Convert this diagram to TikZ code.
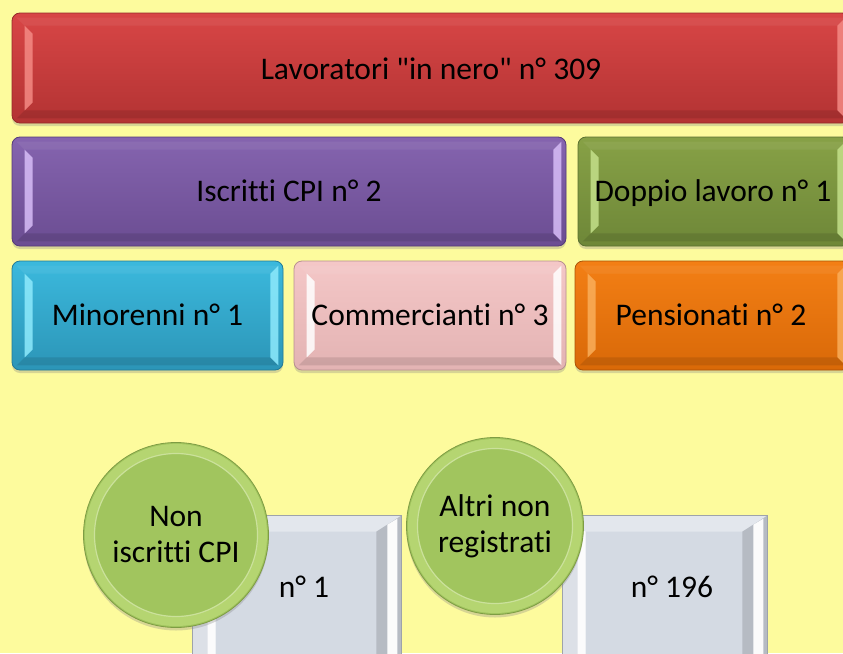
\documentclass[tikz,border=0pt]{standalone}
\usepackage{fontspec}
\newfontfamily\calfont[Ligatures=NoCommon]{Carlito}
\usetikzlibrary{calc,shadows}
\definecolor{bg}{HTML}{FDFB9D}
\definecolor{redT}{HTML}{D84646}\definecolor{redB}{HTML}{B33333}\definecolor{redE}{HTML}{952A2A}\definecolor{redH}{HTML}{F48A84}
\definecolor{purT}{HTML}{8564AF}\definecolor{purB}{HTML}{6B4D92}\definecolor{purE}{HTML}{553A7A}\definecolor{purH}{HTML}{D7BDF7}
\definecolor{oliT}{HTML}{87A146}\definecolor{oliB}{HTML}{6E8738}\definecolor{oliE}{HTML}{5A7030}\definecolor{oliH}{HTML}{C4E08A}
\definecolor{bluT}{HTML}{3BB9DD}\definecolor{bluB}{HTML}{2C95B7}\definecolor{bluE}{HTML}{237A96}\definecolor{bluH}{HTML}{8EEAFC}
\definecolor{pinT}{HTML}{F4C7C7}\definecolor{pinB}{HTML}{E3B3B3}\definecolor{pinE}{HTML}{B89090}\definecolor{pinH}{HTML}{FFFFFF}
\definecolor{oraT}{HTML}{F37F15}\definecolor{oraB}{HTML}{D96908}\definecolor{oraE}{HTML}{AA5206}\definecolor{oraH}{HTML}{FAAE5A}
\definecolor{cirF}{HTML}{A1C55E}\definecolor{cirR}{HTML}{B5D571}\definecolor{cirE}{HTML}{7E9C44}
\definecolor{gryF}{HTML}{D4DAE3}\definecolor{gryT}{HTML}{E3E7ED}\definecolor{gryL}{HTML}{DCE0E7}\definecolor{gryR}{HTML}{B6BBC3}\definecolor{gryE}{HTML}{9EA3AB}
\tikzset{
  bevbox/.style={rounded corners=8pt, line width=0.8pt, inner sep=0pt,
    drop shadow={shadow xshift=0pt,shadow yshift=-3pt,opacity=0.3}},
  graybox/.style={fill=gryF, draw=gryE, line width=0.8pt, inner sep=0pt,
    drop shadow={shadow xshift=0pt,shadow yshift=-3pt,opacity=0.3}},
  circbox/.style={circle, fill=cirF, draw=cirE, line width=0.8pt, inner sep=0pt,
    drop shadow={shadow xshift=0pt,shadow yshift=-3pt,opacity=0.3}},
  boxtext/.style={font=\calfont\fontsize{31.5}{36}\selectfont, text=black, inner sep=0pt, text height=20pt, text depth=0pt},
  circtext/.style={font=\calfont\fontsize{31.5}{36}\selectfont, text=black, inner sep=0pt, align=center},
}
\newcommand\bevelhl[2]{%
  \fill[#2,opacity=0.85] ($(#1.north west)+(13,13)$) -- ($(#1.north west)+(21,21)$) -- ($(#1.south west)+(21,-21)$) -- ($(#1.south west)+(13,-13)$) -- cycle;
  \fill[#2,opacity=0.85] ($(#1.north east)+(-5,5)$) -- ($(#1.north east)+(-13,13)$) -- ($(#1.south east)+(-13,-13)$) -- ($(#1.south east)+(-5,-5)$) -- cycle;
  \fill[black,opacity=0.10] ($(#1.south west)+(13,-13)$) -- ($(#1.south east)+(-13,-13)$) -- ($(#1.south east)+(-5,-5)$) -- ($(#1.south west)+(5,-5)$) -- cycle;
  \fill[white,opacity=0.06] ($(#1.north west)+(5,5)$) -- ($(#1.north east)+(-5,5)$) -- ($(#1.north east)+(-13,13)$) -- ($(#1.north west)+(13,13)$) -- cycle;
}
\newcommand\graybevel[1]{%
  \fill[gryT] (#1.north west) -- (#1.north east) -- ($(#1.north east)+(-25,16)$) -- ($(#1.north west)+(23,16)$) -- cycle;
  \fill[gryL] (#1.north west) -- ($(#1.north west)+(23,16)$) -- ($(#1.south west)+(23,-16)$) -- (#1.south west) -- cycle;
  \fill[white,opacity=0.9] ($(#1.north west)+(15,11)$) -- ($(#1.north west)+(23,16)$) -- ($(#1.south west)+(23,-16)$) -- ($(#1.south west)+(15,-11)$) -- cycle;
  \fill[gryR] (#1.north east) -- (#1.south east) -- ($(#1.south east)+(-25,-16)$) -- ($(#1.north east)+(-25,16)$) -- cycle;
  \fill[white,opacity=0.95] ($(#1.north east)+(-4,3)$) -- ($(#1.north east)+(-14,9)$) -- ($(#1.south east)+(-14,-9)$) -- ($(#1.south east)+(-4,-3)$) -- cycle;
  \draw[gryE,line width=0.8pt] (#1.north west) rectangle (#1.south east);
}
\begin{document}
\begin{tikzpicture}[x=1pt,y=-1pt]
  \useasboundingbox (0,0) rectangle (843,653);
  \fill[bg] (0,0) rectangle (843,653);
  \clip (0,0) rectangle (843,653);

  % top boxes
  \node[bevbox, top color=redT, bottom color=redB, draw=redE, minimum width=838pt, minimum height=110pt] (red) at (431,68) {};
  \bevelhl{red}{redH}
  \node[boxtext] (redt) at (431,69.5) {Lavoratori "in nero" n° 309};

  \node[bevbox, top color=purT, bottom color=purB, draw=purE, minimum width=554pt, minimum height=109pt] (pur) at (289,191.5) {};
  \bevelhl{pur}{purH}
  \node[boxtext] (purt) at (289,191.5) {Iscritti CPI n° 2};

  \node[bevbox, top color=oliT, bottom color=oliB, draw=oliE, minimum width=272pt, minimum height=109pt] (oli) at (714,191.5) {};
  \bevelhl{oli}{oliH}
  \node[boxtext] (olit) at (713,191.5) {Doppio lavoro n° 1};

  \node[bevbox, top color=bluT, bottom color=bluB, draw=bluE, minimum width=271pt, minimum height=109pt] (blu) at (147.5,315.5) {};
  \bevelhl{blu}{bluH}
  \node[boxtext] (blut) at (147.5,315.5) {Minorenni n° 1};

  \node[bevbox, top color=pinT, bottom color=pinB, draw=pinE, minimum width=272pt, minimum height=109pt] (pin) at (430,315.5) {};
  \bevelhl{pin}{pinH}
  \node[boxtext] (pint) at (430,315.5) {Commercianti n° 3};

  \node[bevbox, top color=oraT, bottom color=oraB, draw=oraE, minimum width=275pt, minimum height=109pt] (ora) at (712.5,315.5) {};
  \bevelhl{ora}{oraH}
  \node[boxtext] (orat) at (711,315.5) {Pensionati n° 2};

  % gray boxes
  \node[graybox, minimum width=208pt, minimum height=214pt] (g1) at (297,623) {};
  \graybevel{g1}
  \node[boxtext] (g1t) at (304,587) {n° 1};

  \node[graybox, minimum width=204pt, minimum height=214pt] (g2) at (665,623) {};
  \graybevel{g2}
  \node[boxtext] (g2t) at (672,587) {n° 196};

  % circles
  \node[circbox, minimum size=185pt] (c1) at (176,535) {};
  \draw[cirR, line width=10pt] (c1.center) circle (86pt);
  \draw[white, opacity=0.3, line width=1.2pt] (c1.center) circle (81.5pt);
  \node[circtext] (c1t) at (176,535) {Non\\iscritti CPI};

  \node[circbox, minimum size=177pt] (c2) at (495,526) {};
  \draw[cirR, line width=10pt] (c2.center) circle (82pt);
  \draw[white, opacity=0.3, line width=1.2pt] (c2.center) circle (77.5pt);
  \node[circtext] (c2t) at (495,526) {Altri non\\registrati};
\end{tikzpicture}
\end{document}
